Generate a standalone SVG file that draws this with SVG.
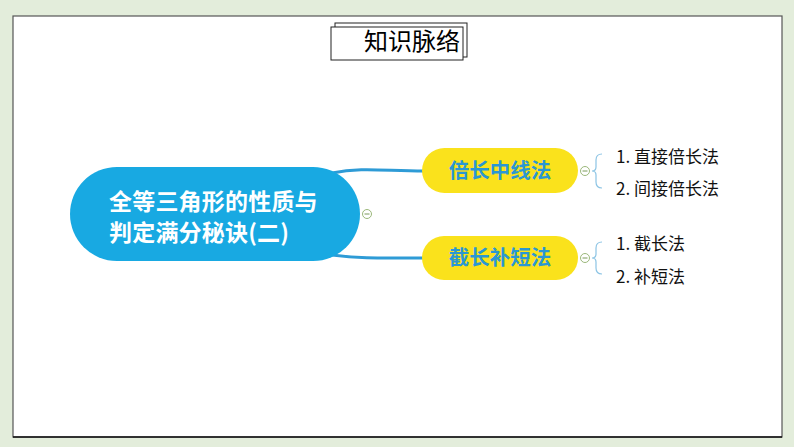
<svg xmlns="http://www.w3.org/2000/svg" width="794" height="447" viewBox="0 0 794 447">
<style>
.conn{fill:none;stroke:#2E9BD6;stroke-width:3;stroke-linecap:round}
.brace{fill:none;stroke:#8CC4E4;stroke-width:1.2}
.tog{fill:#fff;stroke:#9BB87A;stroke-width:1}
.togl{stroke:#7A9A5A;stroke-width:1}
.cjk{font-family:"Noto Sans CJK SC","Noto Sans",sans-serif}
.main{font-size:23px;font-weight:bold;fill:#fff}
.sub{font-size:20.5px;font-weight:bold;fill:#2A97D3;text-anchor:middle}
.leaf{font-size:17px;fill:#111}
</style>
<rect x="0" y="0" width="794" height="447" fill="#E3EDDB"/>
<rect x="13" y="16" width="769" height="421" fill="#fff" stroke="#555" stroke-width="1.2"/>
<line x1="13" y1="437" x2="782" y2="437" stroke="#111" stroke-width="1.5"/>
<g id="title">
<rect x="335" y="23" width="132" height="34" fill="#fff" stroke="#222" stroke-width="1"/>
<rect x="331" y="27" width="132" height="33" fill="#fff" stroke="#222" stroke-width="1"/>
<text x="412" y="50" class="cjk" font-size="24" fill="#000" text-anchor="middle">知识脉络</text>
</g>
<g id="connectors">
<path class="conn" d="M332,173 C362,167 384,171 424,171"/>
<path class="conn" d="M332,255 C362,259 384,258 424,258"/>
<path class="brace" d="M602,154 Q596,154 596,160 L596,167 Q596,171 592,171 Q596,171 596,175 L596,182 Q596,188 602,188"/>
<path class="brace" d="M602,242 Q596,242 596,248 L596,254 Q596,258 592,258 Q596,258 596,262 L596,268 Q596,274 602,274"/>
</g>
<g id="root">
<rect x="70" y="167" width="290" height="94" rx="47" fill="#18A9E2"/>
<text x="109" y="210" class="cjk main" letter-spacing="0.2">全等三角形的性质与</text>
<text x="109" y="241" class="cjk main" letter-spacing="0.2">判定满分秘诀(二)</text>
<circle cx="367" cy="214" r="4.5" class="tog"/>
<line x1="364.5" y1="214" x2="369.5" y2="214" class="togl"/>
</g>
<g id="n1">
<rect x="422" y="148" width="156" height="45" rx="22.5" fill="#FAE21C"/>
<text x="500" y="178" class="cjk sub">倍长中线法</text>
<circle cx="585" cy="171" r="4.5" class="tog"/>
<line x1="582.5" y1="171" x2="587.5" y2="171" class="togl"/>
</g>
<g id="n2">
<rect x="422" y="236" width="156" height="44" rx="22" fill="#FAE21C"/>
<text x="500" y="265" class="cjk sub">截长补短法</text>
<circle cx="585" cy="258" r="4.5" class="tog"/>
<line x1="582.5" y1="258" x2="587.5" y2="258" class="togl"/>
</g>
<g id="l1"><text x="616" y="163" class="cjk leaf">1. 直接倍长法</text></g>
<g id="l2"><text x="616" y="195" class="cjk leaf">2. 间接倍长法</text></g>
<g id="l3"><text x="616" y="250" class="cjk leaf">1. 截长法</text></g>
<g id="l4"><text x="616" y="283" class="cjk leaf">2. 补短法</text></g>
</svg>
